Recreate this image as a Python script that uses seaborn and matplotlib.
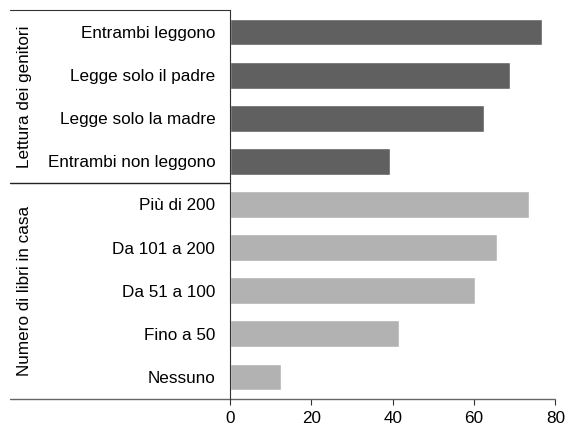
import matplotlib
matplotlib.use("Agg")
import matplotlib.pyplot as plt
import seaborn as sns
import pandas as pd

voci_genitori = ["Entrambi leggono", "Legge solo il padre", "Legge solo la madre", "Entrambi non leggono"]
valori_genitori = [76.7, 68.9, 62.5, 39.4]
voci_libri = ["Più di 200", "Da 101 a 200", "Da 51 a 100", "Fino a 50", "Nessuno"]
valori_libri = [73.5, 65.7, 60.3, 41.5, 12.5]
gruppi = ["Lettura dei genitori", "Numero di libri in casa"]
ticks = [0, 20, 40, 60, 80]

df = pd.DataFrame({
    "voce": voci_genitori + voci_libri,
    "valore": valori_genitori + valori_libri,
    "gruppo": [gruppi[0]] * len(voci_genitori) + [gruppi[1]] * len(voci_libri),
})

sns.set_style("white")
plt.rcParams["font.family"] = ["Liberation Sans", "DejaVu Sans"]
plt.rcParams["text.color"] = "black"
plt.rcParams["xtick.color"] = "black"
plt.rcParams["ytick.color"] = "black"
fs = 12.3

fig, ax = plt.subplots(figsize=(5.65, 4.28), dpi=100)
fig.subplots_adjust(left=0.407, right=0.983, top=0.9755, bottom=0.0689)

sns.barplot(data=df, x="valore", y="voce", hue="gruppo", palette=["#606060", "#b2b2b2"],
            dodge=False, width=0.62, legend=False, ax=ax)

ax.set_xlim(0, 80)
ax.set_ylim(len(df) - 0.5, -0.5)
ax.set_xticks(ticks)
ax.set_xlabel("")
ax.set_ylabel("")
ax.tick_params(axis="x", length=4, width=0.8, pad=5, labelsize=fs, color="#333333", bottom=True)
ax.tick_params(axis="y", length=0, pad=10.5, labelsize=fs)

for s in ["top", "right"]:
    ax.spines[s].set_visible(False)
ax.spines["left"].set_color("#333333")
ax.spines["left"].set_linewidth(0.8)
ax.spines["bottom"].set_visible(False)

# linee di separazione a sinistra
x0 = -0.676
ax.plot([x0, 1.0], [0, 0], transform=ax.transAxes, color="#666666", lw=1.0, clip_on=False)
ax.plot([x0, 0], [1, 1], transform=ax.transAxes, color="#333333", lw=0.8, clip_on=False)
n = len(df)
sep = len(voci_libri) / n
ax.plot([x0, 0], [sep, sep], transform=ax.transAxes, color="#222222", lw=1.0, clip_on=False)

# etichette dei gruppi
ax.text(-0.63, 1 - len(voci_genitori) / 2 / n, gruppi[0], transform=ax.transAxes,
        rotation=90, ha="center", va="center", fontsize=fs)
ax.text(-0.63, sep / 2, gruppi[1], transform=ax.transAxes,
        rotation=90, ha="center", va="center", fontsize=fs)

fig.savefig("out.png", dpi=100)
